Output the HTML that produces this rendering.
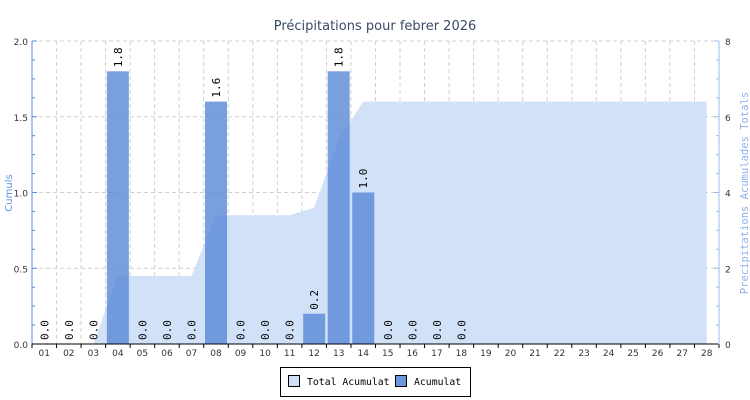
<!DOCTYPE html>
<html><head><meta charset="utf-8"><style>
body{margin:0;background:#fff;width:750px;height:400px;overflow:hidden}
svg{display:block}
</style></head><body>
<svg id="c" width="750" height="400" xmlns="http://www.w3.org/2000/svg"></svg>
<script>
var L=32,R=719,T=41,B=344,H=B-T,n=28,cw=(R-L)/n;
var vals=[0,0,0,1.8,0,0,0,1.6,0,0,0,0.2,1.8,1.0,0,0,0,0];
var s='';
s+='<text x="375" y="30" text-anchor="middle" font-family="DejaVu Sans, sans-serif" font-size="13" fill="#3b4a66">Précipitations pour febrer 2026</text>';
for(var k=1;k<n;k++){var x=L+k*cw;s+='<line x1="'+x+'" y1="'+T+'" x2="'+x+'" y2="'+B+'" stroke="#d0d0d0" stroke-dasharray="4,3"/>';}
for(var v=0.5;v<=2.01;v+=0.5){var y=B-v*H/2;s+='<line x1="'+L+'" y1="'+y+'" x2="'+R+'" y2="'+y+'" stroke="#d0d0d0" stroke-dasharray="4,3"/>';}
var cum=[],c=0;for(var i=0;i<n;i++){c+=(vals[i]||0);cum.push(c);}
var pts=[];var cx=function(i){return L+(i+0.5)*cw};
pts.push(cx(0)+','+B);
for(var i=0;i<n;i++){pts.push(cx(i)+','+(B-cum[i]*H/8));}
pts.push(cx(n-1)+','+B);
s+='<polygon points="'+pts.join(' ')+'" fill="#cfdff8" fill-opacity="0.95"/>';
for(var i=0;i<vals.length;i++){var v=vals[i];var x=cx(i);
 if(v>0){var y=B-v*H/2;s+='<rect x="'+(x-11)+'" y="'+y+'" width="22" height="'+(B-y)+'" fill="#5b8ad8" fill-opacity="0.82"/>';}
 var ty=B-v*H/2-4;
 s+='<text transform="translate('+(x+4)+','+ty+') rotate(-90)" font-family="DejaVu Sans Mono, monospace" font-size="11" fill="#000">'+v.toFixed(1)+'</text>';}
s+='<line x1="'+L+'" y1="'+T+'" x2="'+L+'" y2="'+B+'" stroke="#5b8ad8"/>';
s+='<line x1="'+R+'" y1="'+T+'" x2="'+R+'" y2="'+B+'" stroke="#9bbcf0"/>';
for(var k=0;k<=16;k++){var y=B-k*H/16;var w=(k%4==0)?5:3;
 s+='<line x1="'+L+'" y1="'+y+'" x2="'+(L+w)+'" y2="'+y+'" stroke="#5b8ad8"/>';
 s+='<line x1="'+(R-w)+'" y1="'+y+'" x2="'+R+'" y2="'+y+'" stroke="#9bbcf0"/>';}
for(var k=0;k<=4;k++){var y=B-k*H/4;
 s+='<text x="'+(L-4)+'" y="'+(y+4)+'" text-anchor="end" font-family="DejaVu Sans, sans-serif" font-size="9" fill="#333">'+(k*0.5).toFixed(1)+'</text>';
 s+='<text x="'+(R+6)+'" y="'+(y+4)+'" font-family="DejaVu Sans, sans-serif" font-size="9" fill="#333">'+(k*2)+'</text>';}
s+='<line x1="'+L+'" y1="'+B+'" x2="'+(R-1)+'" y2="'+B+'" stroke="#000"/>';
for(var k=0;k<=n;k++){var x=L+k*cw;s+='<line x1="'+x+'" y1="'+B+'" x2="'+x+'" y2="'+(B+4)+'" stroke="#000"/>';}
for(var i=0;i<n;i++){s+='<text x="'+cx(i)+'" y="'+(B+12)+'" text-anchor="middle" font-family="DejaVu Sans, sans-serif" font-size="9" fill="#333">'+(i<9?'0':'')+(i+1)+'</text>';}
s+='<text transform="translate(12,193) rotate(-90)" text-anchor="middle" font-family="DejaVu Sans, sans-serif" font-size="10" fill="#5b92e8">Cumuls</text>';
s+='<text transform="translate(748,193) rotate(-90)" text-anchor="middle" font-family="DejaVu Sans Mono, monospace" font-size="10.5" fill="#8fb2ee">Precipitations Acumulades Totals</text>';
s+='<rect x="280.5" y="367.5" width="190" height="29" fill="#fff" stroke="#000"/>';
s+='<rect x="288.5" y="375.5" width="11" height="11" fill="#cfdff8" stroke="#000"/>';
s+='<text x="307" y="385" font-family="DejaVu Sans Mono, monospace" font-size="9.8" fill="#000">Total Acumulat</text>';
s+='<rect x="395.5" y="375.5" width="11" height="11" fill="#6a97dc" stroke="#000"/>';
s+='<text x="414" y="385" font-family="DejaVu Sans Mono, monospace" font-size="9.8" fill="#000">Acumulat</text>';
document.getElementById('c').innerHTML=s;
</script>
</body></html>
